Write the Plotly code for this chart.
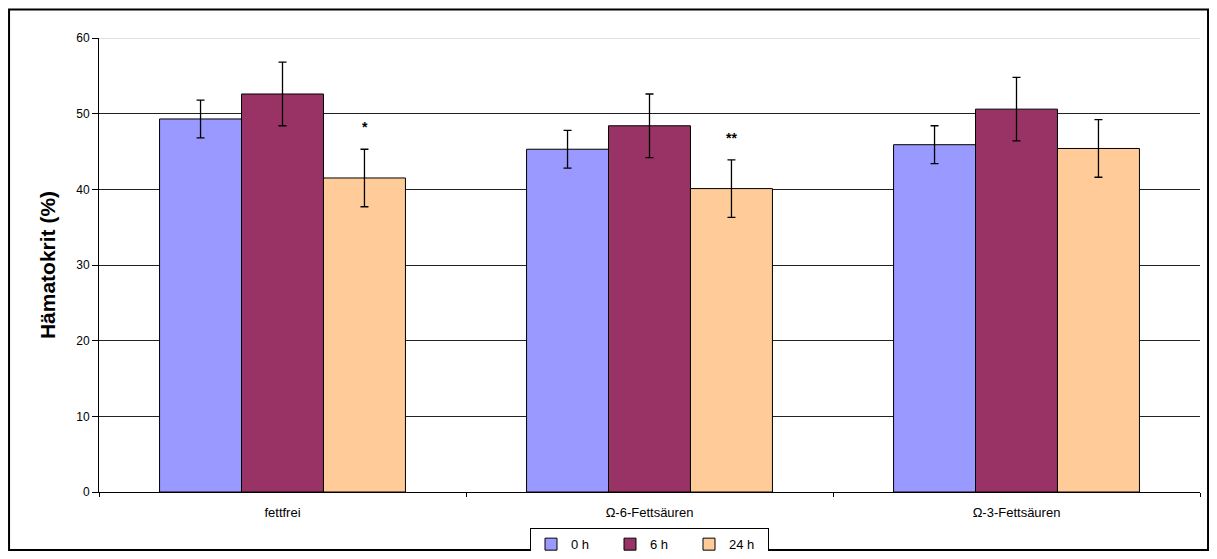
import plotly.graph_objects as go

categories = ["fettfrei", "Ω-6-Fettsäuren", "Ω-3-Fettsäuren"]
series_names = ["0 h", "6 h", "24 h"]
values_0h = [49.3, 45.3, 45.9]
values_6h = [52.6, 48.4, 50.6]
values_24h = [41.5, 40.1, 45.4]
err_0h = [2.5, 2.5, 2.5]
err_6h = [4.2, 4.2, 4.2]
err_24h = [3.8, 3.8, 3.8]
colors = ["#9999FF", "#993366", "#FFCC99"]
significance = ["*", "**", ""]
y_max = 60

FONT = "Liberation Sans, Arial, sans-serif"

fig = go.Figure()
for name, vals, errs, col in zip(series_names, [values_0h, values_6h, values_24h],
                                 [err_0h, err_6h, err_24h], colors):
    fig.add_trace(go.Bar(
        x=categories, y=vals, name=name,
        marker=dict(color=col, line=dict(color="black", width=1)),
        error_y=dict(type="data", array=errs, visible=True, color="black",
                     thickness=1.3, width=4),
    ))

# significance markers above the 24 h bars
for cat, v, e, s in zip(categories, values_24h, err_24h, significance):
    if s:
        fig.add_annotation(x=cat, y=v + e, text="<b>" + s + "</b>", showarrow=False,
                           xshift=82, yshift=22,
                           font=dict(family=FONT, size=14, color="black"))

# top gridline (light gray, as in the original)
fig.add_shape(type="line", xref="paper", yref="y", x0=0, x1=1, y0=y_max, y1=y_max,
              line=dict(color="#c4c4c4", width=1), layer="below")

# outer frame
fig.add_shape(type="rect", xref="paper", yref="paper",
              x0=-0.0817, x1=1.0073, y0=-0.1278, y1=1.0628,
              line=dict(color="black", width=2), fillcolor="rgba(0,0,0,0)")

fig.update_layout(
    width=1201, height=543,
    margin=dict(l=91, r=9, t=30, b=59),
    paper_bgcolor="white", plot_bgcolor="white",
    barmode="group", bargap=0.33, bargroupgap=0,
    font=dict(family=FONT, size=12, color="black"),
    showlegend=True,
    legend=dict(orientation="h", x=0.5, xanchor="center",
                yref="container", y=0.042, yanchor="top",
                bordercolor="black", borderwidth=1, bgcolor="white",
                font=dict(family=FONT, size=13), itemwidth=30,
                entrywidth=34, entrywidthmode="pixels",
                traceorder="normal"),
    xaxis=dict(type="category", showline=True, linecolor="black", linewidth=1,
               ticks="outside", tickson="boundaries", ticklen=4, tickcolor="black",
               tickfont=dict(family=FONT, size=13, color="black"),
               ticklabelstandoff=8,
               showgrid=False, zeroline=False),
    yaxis=dict(range=[0, y_max], dtick=10, showline=True, linecolor="black", linewidth=1,
               ticks="outside", ticklen=6, tickcolor="black",
               tickfont=dict(family=FONT, size=12, color="black"),
               showgrid=True, gridcolor="#222222", gridwidth=1, zeroline=False,
               title=dict(text="<b>Hämatokrit (%)</b>", standoff=14,
                          font=dict(family=FONT, size=21, color="black"))),
)

fig.write_html("out.html")
